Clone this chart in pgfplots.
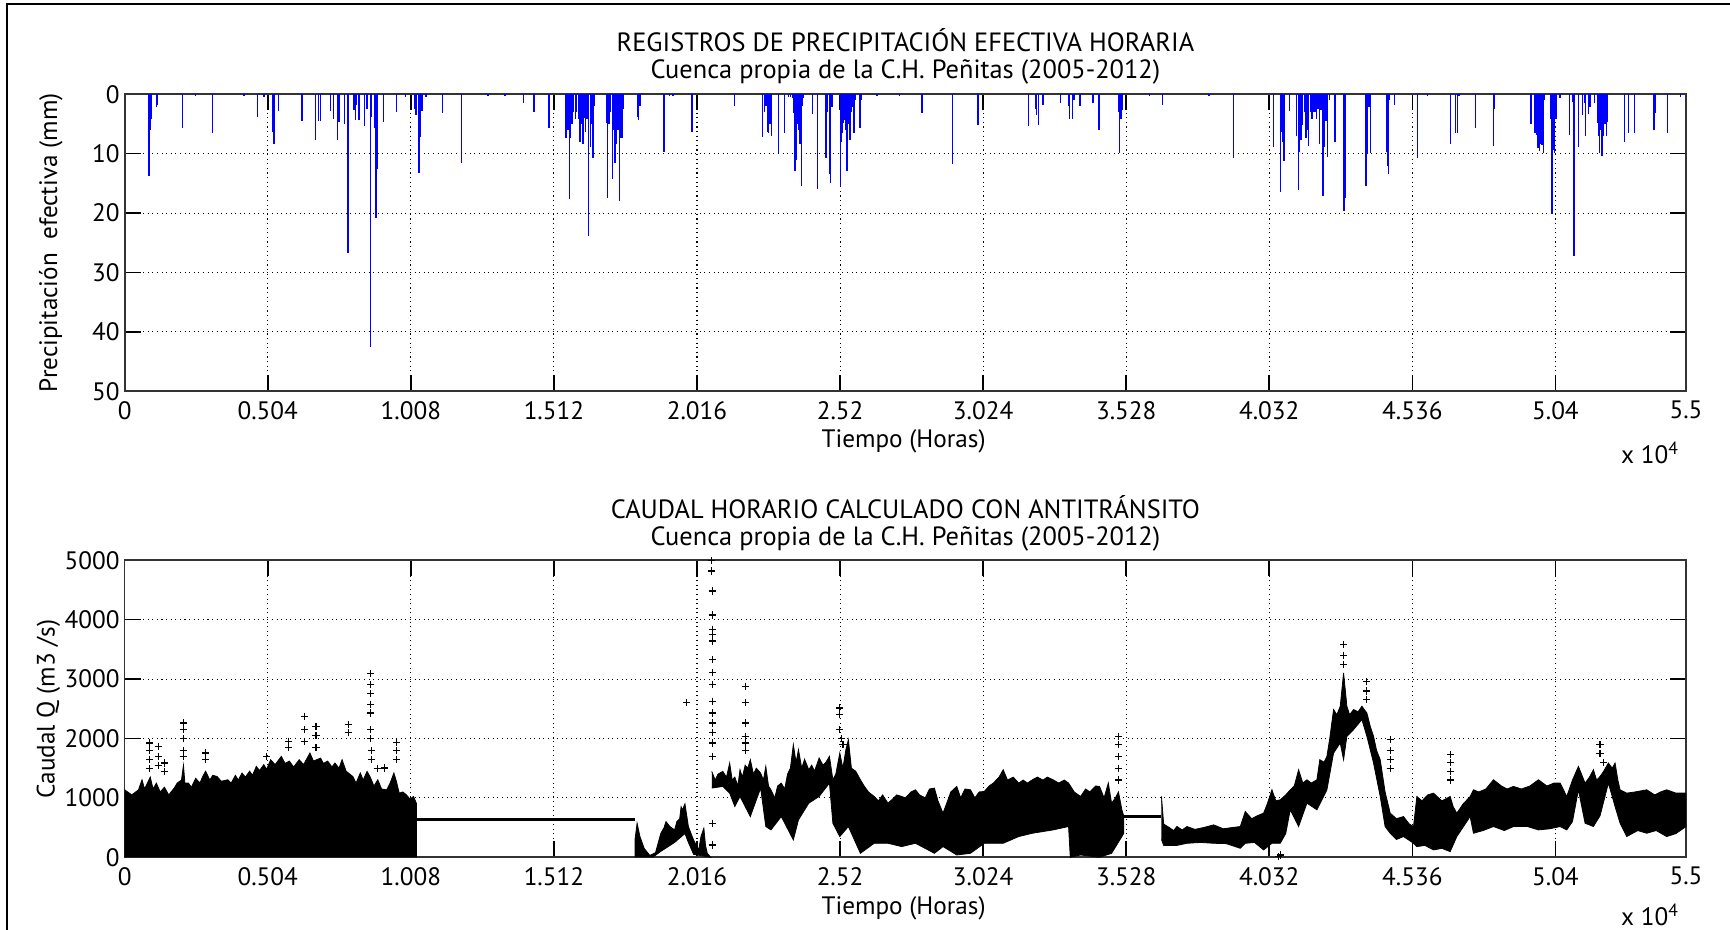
\documentclass[border=0pt]{standalone}
\usepackage{fontspec}
\setmainfont{PT Sans}
\usepackage{pgfplots}
\pgfplotsset{compat=1.18}
\newcommand\F{\fontsize{12}{14}\selectfont}
\newcommand\FT{\fontsize{13.2}{15}\selectfont}
\newcommand\FL{\fontsize{12.6}{15}\selectfont}
\pgfplotsset{matlab/.style={
  scale only axis, width=780.65pt, height=148.5pt,
  xmin=0, xmax=55000,
  xtick={0,5040,10080,15120,20160,25200,30240,35280,40320,45360,50400,55000},
  xticklabels={0,0.504,1.008,1.512,2.016,2.52,3.024,3.528,4.032,4.536,5.04,5.5},
  scaled x ticks=false, scaled y ticks=false,
  grid=major,
  major grid style={black, line width=0.55pt, dash pattern=on 0.55pt off 1.75pt},
  tick align=inside,
  major tick length=8pt,
  tick style={black, line width=0.8pt},
  axis line style={line width=0.8pt, black!80},
  ticklabel style={font=\FL},
  xticklabel style={yshift=-1.5pt},
  yticklabel style={xshift=1pt},
  /pgf/number format/assume math mode=true,
  /pgf/number format/1000 sep={},
}}
\begin{document}
\begin{tikzpicture}[x=1pt,y=1pt]
\useasboundingbox (0pt,0pt) rectangle (865pt,465pt);
\draw[line width=1pt] (3.5pt,0pt) -- (3.5pt,463pt) -- (865pt,463pt);

% ---------- top axis ----------
\begin{axis}[matlab, at={(62.35pt,269.35pt)}, anchor=south west,
  y dir=reverse, ymin=0, ymax=50, ytick={0,10,20,30,40,50}]
\addplot[ycomb, color=blue, line width=0.7pt, line cap=butt, mark=none] coordinates {
(856,13.8)(891,6.0)(951,4.2)(1127,2.2)(1162,1.8)(2045,5.7)(2500,0.3)(3087,6.6)(4200,0.3)(4686,3.8)(4907,0.5)
(5213,6.3)(5260,8.3)(5425,2.8)(6246,4.5)(6715,7.7)(6821,4.5)(6892,4.5)(7244,2.8)(7350,4.2)
(7503,7.7)(7550,4.7)(7750,5.0)(7867,26.7)(8078,2.6)(8125,4.4)(8172,1.8)(8230,4.4)(8277,4.4)
(8441,5.4)(8535,2.5)(8653,42.6)(8700,3.8)(8806,5.7)(8853,20.9)(8900,12.5)(9111,4.7)(9581,3.0)
(9900,0.4)(10202,2.5)(10261,3.5)(10367,13.2)(10414,7.2)(10473,2.8)(10614,0.5)(11189,3.2)(11871,11.5)
(12800,0.3)(13400,0.3)(14042,1.5)(14418,3.0)(14947,5.7)(15546,7.4)(15592,4.7)(15620,6.0)(15662,17.7)(15711,7.4)
(15760,5.0)(15820,3.0)(15873,4.2)(15922,2.9)(15993,4.1)(16039,8.0)(16090,5.0)(16145,8.3)(16190,4.0)(16240,6.3)(16286,4.1)
(16345,23.9)(16402,8.8)(16450,5.0)(16497,10.8)(16543,2.0)(16966,4.9)(17015,17.4)(17060,5.0)(17120,3.0)(17177,14.2)(17230,6.0)
(17272,11.6)(17318,8.3)(17380,6.0)(17437,17.9)(17483,7.4)(17530,7.4)(17578,2.5)(18071,3.8)(18107,4.4)
(18152,2.0)(18998,9.7)(19200,0.3)(19315,0.3)(19985,6.3)(21474,2.0)(22475,7.2)(22530,3.0)(22592,2.0)(22637,6.3)
(22686,6.6)(22730,5.0)(22778,7.0)(23038,9.9)(23250,6.6)(23377,0.5)(23460,0.4)(23520,0.6)(23567,3.2)(23612,12.9)(23672,11.1)
(23710,5.0)(23743,6.0)(23789,8.4)(23835,15.4)(23870,2.0)(23905,0.7)(24236,3.3)(24399,16.0)(24705,10.7)
(24760,3.0)(24821,13.4)(24870,15.0)(24916,2.1)(25223,15.4)(25245,8.0)(25268,6.6)(25314,4.9)(25374,4.3)
(25410,6.0)(25445,12.9)(25480,5.0)(25504,4.4)(25550,7.7)(25590,3.0)(25621,2.1)(25691,6.6)(25737,1.0)(25903,5.7)
(25949,1.0)(26500,0.3)(27300,0.3)(28087,3.2)(29168,11.7)(30060,5.2)(31833,5.4)(32078,2.4)(32127,3.5)
(32184,5.2)(32349,1.8)(32972,1.5)(33242,2.0)(33290,4.2)(33395,4.1)(33442,0.9)(33653,2.0)
(34111,1.5)(34322,6.0)(35000,3.0)(35051,9.9)(35097,4.1)(35157,2.7)(36100,0.3)(36552,1.8)(38200,0.3)(39054,10.8)
(40463,8.9)(40722,16.4)(40768,6.3)(40800,8.0)(40838,11.2)(41026,2.8)(41286,7.1)(41343,16.1)
(41392,9.7)(41438,7.7)(41497,5.2)(41560,3.0)(41614,7.4)(41660,6.0)(41709,8.7)(41770,3.0)(41826,4.2)(41872,2.9)
(41930,3.0)(41991,4.1)(42037,2.4)(42083,8.3)(42143,2.6)(42213,17.2)(42259,8.8)(42319,4.5)(42378,10.5)
(42435,1.0)(42636,8.0)(42953,19.7)(42999,17.5)(43728,15.4)(43774,9.9)(43834,2.1)(43879,9.9)
(44456,9.7)(44485,12.0)(44513,13.5)(44562,1.0)(44724,1.8)(45549,10.8)(45900,0.3)(46697,8.3)(46887,6.6)
(46944,6.6)(47000,0.3)(47592,5.7)(48212,8.7)(48247,2.4)(49540,5.0)(49681,6.6)(49727,6.9)(49760,7.5)
(49787,9.1)(49810,8.0)(49833,9.5)(49860,7.0)(49881,8.3)(49905,7.0)(49927,8.5)(49950,7.0)(49973,9.8)(50022,1.0)(50219,4.1)
(50279,20.1)(50325,9.4)(50350,7.0)(50375,9.9)(50420,4.1)(50561,0.7)(50903,6.9)(51009,1.3)
(51054,27.2)(51220,8.9)(51361,3.5)(51417,1.5)(51467,7.0)(51572,3.3)(51618,2.1)(51784,1.4)
(51900,4.9)(51925,7.0)(51946,9.8)(51970,6.0)(51995,5.2)(52020,8.0)(52041,10.4)(52065,6.0)(52087,7.1)(52110,5.0)(52136,4.1)(52165,5.0)(52192,7.1)
(52242,4.6)(52827,8.0)(52981,6.6)(53193,6.6)(53873,6.0)(53933,3.2)(54341,6.6)(54800,0.5)
};
\end{axis}

% ---------- bottom axis ----------
\begin{axis}[matlab, at={(62.35pt,36.35pt)}, anchor=south west,
  ymin=0, ymax=5000, ytick={0,1000,2000,3000,4000,5000}]
% segment A
\addplot[fill=black, draw=black, line width=0.4pt] coordinates {
(0,0)(0,1136)(250,1050)(485,1136)(610,1305)(700,1150)(800,1250)(900,1350)(1000,1150)(1114,1249)(1250,1100)(1400,1180)(1550,1050)
(1743,1165)(1850,1250)(2000,1300)(2070,1550)(2120,1250)(2246,1249)(2350,1180)(2500,1330)(2650,1250)(2750,1361)(2850,1450)
(3000,1300)(3100,1380)(3253,1361)(3400,1280)(3631,1305)(3750,1250)(3900,1380)(4000,1300)(4134,1418)(4250,1350)(4400,1450)
(4500,1380)(4637,1530)(4750,1460)(4900,1560)(5000,1480)(5141,1643)(5300,1560)(5518,1699)(5650,1580)
(5800,1620)(5950,1520)(6147,1643)(6300,1560)(6525,1755)(6650,1620)(6902,1671)(7000,1580)(7150,1620)(7300,1520)(7406,1587)
(7550,1500)(7657,1643)(7800,1450)(8035,1361)(8150,1250)(8300,1420)(8400,1300)(8538,1446)(8650,1350)(8780,1200)
(8916,1305)(9050,1150)(9230,1136)(9350,1250)(9482,1418)(9560,1300)(9671,1080)(9800,1100)(9922,1052)(10050,980)(10174,1024)(10275,911)(10275,0)
};
% segment B
\addplot[black, line width=1.7pt] coordinates {(10275,641)(17977,641)};
% segment C
\addplot[fill=black, draw=black, line width=0.4pt] coordinates {
(17977,0)(17977,300)(18050,574)(18150,350)(18300,150)(18500,30)(18700,80)(18887,405)(19000,500)(19069,600)
(19200,520)(19372,461)(19450,600)(19550,650)(19600,850)(19650,800)(19736,900)(19800,700)(19857,518)(19950,400)(20039,293)(20221,124)
(20300,350)(20402,490)(20460,200)(20524,67)(20645,0)
(20039,50)(19857,250)(19736,400)(19372,250)(18887,100)(18600,0)
};
% segment D
\addplot[fill=black, draw=black, line width=0.4pt] coordinates {
(20681,1446)(20800,1300)(20900,1400)(21069,1446)(21200,1350)(21311,1587)(21400,1300)(21493,1350)(21600,1200)(21675,1474)
(21760,1350)(21857,1550)(21950,1500)(22039,1643)(22150,1400)(22250,1500)(22402,1418)(22500,1300)(22584,1530)(22680,1200)
(22766,1136)(22900,1000)(23000,1200)(23129,1249)(23250,1150)(23350,1400)(23450,1500)(23554,1896)(23650,1600)(23735,1811)
(23850,1500)(23950,1650)(24099,1474)(24200,1550)(24300,1450)(24463,1671)(24600,1550)(24700,1600)(24826,1699)(24947,1305)
(25050,1400)(25190,1755)(25300,1500)(25400,1800)(25493,1980)(25600,1500)(25750,1450)(25917,1305)(26050,1200)(26200,1100)
(26402,1024)(26550,950)(26700,1050)(26887,911)(27050,980)(27200,1050)(27371,1024)(27500,1000)(27700,1100)(27856,1136)
(28000,1050)(28200,1000)(28350,1150)(28523,1165)(28650,950)(28826,743)(28950,900)(29100,1100)(29311,1193)(29450,1000)
(29600,1150)(29795,1136)(29950,1000)(30100,1100)(30280,1108)(30450,1200)(30600,1250)(30800,1350)(30947,1474)(31100,1300)
(31300,1350)(31492,1249)(31650,1300)(31800,1250)(31977,1305)(32150,1350)(32350,1300)(32500,1350)(32704,1305)(32900,1250)
(33100,1300)(33250,1249)(33450,1100)(33674,1024)(33850,1150)(34000,1100)(34200,1200)(34340,1193)(34500,1000)(34650,1250)
(34765,911)(34900,1000)(35007,1100)(35128,799)(35189,700)
(35189,400)(35128,349)(34765,67)(34340,0)(33674,39)(33310,0)(33250,518)(32704,461)(31977,405)
(31492,349)(30947,236)(30280,236)(29795,67)(29311,39)(28826,180)(28523,67)(27856,236)(27371,180)
(26887,236)(26402,236)(25917,67)(25493,518)(25190,349)(24947,574)(24826,1249)(24463,1024)(24099,911)
(23735,630)(23554,293)(23129,686)(22766,461)(22584,518)(22402,1165)(22039,686)(21675,1024)(21493,855)
(21311,1080)(21069,1193)(20681,1165)
};
% segment E
\addplot[black, line width=1.7pt] coordinates {(35189,686)(36522,686)};
% segment F
\addplot[fill=black, draw=black, line width=0.4pt] coordinates {
(36522,1024)(36600,560)(36800,500)(36950,450)(37067,520)(37250,460)(37422,518)(37700,470)(38000,500)(38360,546)(38700,480)
(39000,500)(39299,518)(39475,771)(39700,650)(39900,700)(40120,743)(40250,900)(40414,1136)(40550,950)(40707,968)(40900,1050)
(41059,1136)(41200,1200)(41353,1474)(41500,1250)(41646,1305)(41800,1250)(41998,1305)(42100,1643)(42250,1600)(42350,1699)
(42450,2000)(42585,2487)(42700,2400)(42820,2543)(42937,3106)(43054,2543)(43150,2400)(43289,2487)(43450,2450)(43582,2543)
(43758,2430)(43880,2200)(43993,2037)(44100,1800)(44228,1643)(44400,1100)(44580,743)(44800,650)(45049,686)(45250,560)
(45401,518)(45519,1024)(45700,950)(45900,1050)(46105,1080)(46400,950)(46692,1024)(46800,850)(46927,743)(47150,900)
(47396,1024)(47513,1136)(47700,1100)(47950,1150)(48218,1305)(48500,1200)(48700,1150)(48922,1193)(49200,1150)(49500,1200)
(49802,1305)(50100,1200)(50350,1250)(50565,1249)(50800,1024)(51000,1300)(51210,1530)(51445,1249)(51600,1350)(51738,1474)
(51850,1300)(51973,1361)(52100,1450)(52266,1587)(52400,1500)(52501,1587)(52600,1300)(52677,1136)(52912,1080)(53200,1100)
(53616,1136)(53900,1050)(54100,1100)(54320,1136)(54650,1080)(55000,1080)
(55000,518)(54650,400)(54320,349)(53950,450)(53616,405)(53300,450)(52912,349)(52677,574)(52501,855)(52266,1249)(51973,700)(51738,518)
(51445,574)(51210,1136)(51000,600)(50800,461)(50565,518)(50200,480)(49802,461)(49400,520)(48922,518)(48600,450)(48218,518)(47850,450)(47513,405)(47396,686)
(46927,349)(46692,96)(46400,150)(46105,124)(45800,200)(45519,180)(45401,236)(45049,349)(44800,300)(44580,405)(44400,518)(44228,1024)
(43993,1587)(43758,2037)(43582,2318)(43289,2149)(43054,2037)(42937,1643)(42820,1924)(42585,1755)
(42350,1136)(41998,799)(41646,911)(41353,518)(41059,799)(40900,400)(40707,236)(40414,236)(40120,124)(39800,250)(39475,236)
(39299,152)(38800,230)(38360,236)(37900,250)(37422,236)(37067,200)(36600,200)(36522,300)
};
% outliers
\addplot[only marks, mark=+, mark size=1.8pt, black, line width=0.6pt] coordinates {
(887,1924)(887,1800)(887,1650)(887,1500)(1177,1868)(1177,1700)(1177,1550)(1391,1587)(1391,1450)(2070,2262)(2070,2150)(2070,2000)
(2070,1800)(2070,1700)(2850,1755)(2850,1650)(4990,1699)(5770,1952)(5770,1850)(6336,2374)(6336,2149)(6336,1950)(6739,2205)
(6739,2050)(6739,1850)(7884,2233)(7884,2100)(8664,3094)(8664,2909)(8664,2757)(8664,2571)(8664,2430)(8664,2149)(8664,2000)
(8700,1800)(8700,1650)(9583,1935)(9583,1800)(9583,1650)(9142,1502)(8900,1500)
(19796,2600)(20681,4990)(20681,4821)(20700,4484)(20700,4079)(20700,3837)(20700,3752)(20710,3640)
(20710,3331)(20710,3106)(20720,2909)(20720,2627)(20720,2430)(20720,2262)(20720,2100)(20720,1924)
(20700,1700)(20700,574)(20700,208)
(21857,2880)(21857,2600)(21857,2262)(21857,2037)(21857,1924)(21857,1800)
(25190,2515)(25190,2400)(25190,2150)(25250,2000)(25300,1900)
(35007,2037)(35007,1900)(35007,1700)(35007,1500)(35007,1300)
(42937,3584)(42937,3400)(42937,3250)(43758,2965)(43758,2800)(43758,2650)(44580,1980)(44580,1800)
(44580,1650)(44580,1500)(46692,1727)(46692,1600)(46692,1450)(46692,1300)(51973,1896)(51973,1750)(52100,1600)
(40707,39)(40650,10)
};
\end{axis}

% ---------- texts ----------
\node[font=\FT] at (452.7pt,445.15pt) {REGISTROS DE PRECIPITACIÓN EFECTIVA HORARIA};
\node[font=\FT] at (452.7pt,429pt) {Cuenca propia de la C.H. Peñitas (2005-2012)};
\node[font=\FL] at (451.8pt,244.5pt) {Tiempo (Horas)};
\node[font=\FL, anchor=east] at (843pt,238.5pt) {x 10\textsuperscript{4}};
\node[font=\FL, rotate=90] at (25.4pt,343.6pt) {Precipitación\ \ efectiva (mm)};

\node[font=\FT] at (452.7pt,211.5pt) {CAUDAL HORARIO CALCULADO CON ANTITRÁNSITO};
\node[font=\FT] at (452.7pt,195.6pt) {Cuenca propia de la C.H. Peñitas (2005-2012)};
\node[font=\FL] at (451.8pt,11pt) {Tiempo (Horas)};
\node[font=\FL, anchor=east] at (843pt,7.5pt) {x 10\textsuperscript{4}};
\node[font=\FL, rotate=90] at (24.25pt,110.5pt) {Caudal Q (m3 /s)};
\end{tikzpicture}
\end{document}
